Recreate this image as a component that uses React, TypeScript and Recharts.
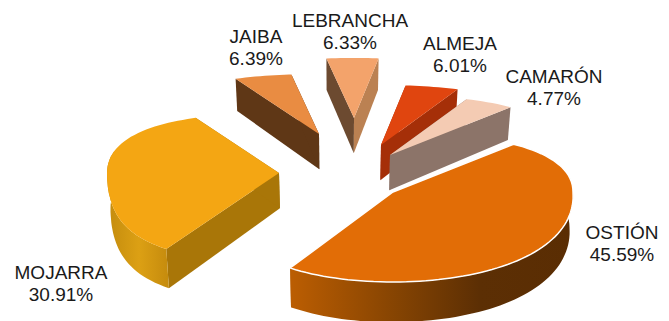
import { Pie, PieChart } from 'recharts'

const names = ['MOJARRA', 'JAIBA', 'LEBRANCHA', 'ALMEJA', 'CAMARÓN', 'OSTIÓN']
const shares = [30.91, 6.39, 6.33, 6.01, 4.77, 45.59]

const data = names.map((name, i) => ({ name, value: shares[i] }))

// exploded offset of each slice's apex from the pie centre
const explode: Record<string, [number, number]> = {
  MOJARRA: [-61, 10],
  JAIBA: [-21, -29],
  LEBRANCHA: [14, -45],
  ALMEJA: [41, -18],
  'CAMARÓN': [50, -8],
  'OSTIÓN': [53, 29],
}

const colors: Record<string, { top: string; start: string; end: string; arc: string[] }> = {
  MOJARRA: { top: '#f4a613', start: '#a97608', end: '#a97608', arc: ['#c48c0e', '#dca014', '#c48a0d'] },
  JAIBA: { top: '#e98c42', start: '#5f3716', end: '#5f3716', arc: ['#5f3716', '#5f3716'] },
  LEBRANCHA: { top: '#f3a36b', start: '#6c4a30', end: '#bb8152', arc: ['#6c4a30', '#bb8152'] },
  ALMEJA: { top: '#e0450f', start: '#a52f08', end: '#a52f08', arc: ['#a52f08', '#a52f08'] },
  'CAMARÓN': { top: '#f4cbb3', start: '#8c7469', end: '#8c7469', arc: ['#8c7469', '#8c7469'] },
  'OSTIÓN': { top: '#e26d06', start: '#5a2d03', end: '#b85c02', arc: ['#5a2d03', '#5c2f04', '#8a4602', '#ba5d02'] },
}

const labelPos: Record<string, [number, number]> = {
  MOJARRA: [61, 279],
  JAIBA: [256, 43],
  LEBRANCHA: [350, 27],
  ALMEJA: [460, 50],
  'CAMARÓN': [554, 83],
  'OSTIÓN': [622, 239],
}

const DEPTH = 38
const VANISH_X = 340
const RAD = Math.PI / 180

// plane point -> screen, the far side shrinks a bit (hand fitted, not a true camera)
function project(X: number, Y: number, nearLeft: number) {
  const width = X > 0 ? 180 : 172
  const far = X > 0 ? 0.3 : 0.22
  const xScale = Y < 0 ? 1 - far * Y * Y : 1 + (X > 0 ? 0.04 * Y : nearLeft * Y * Y)
  return {
    x: width * X * xScale,
    y: 100 * Y + (Y < 0 ? 40 : -10) * Y * Y,
    s: 1 / (1 - 0.12 * Y),
  }
}

function pathOf(pts: { x: number; y: number }[]) {
  return 'M' + pts.map((p) => `${p.x.toFixed(1)},${p.y.toFixed(1)}`).join('L') + 'Z'
}

function Slice3D(props: any) {
  const { cx, cy, startAngle, endAngle, name, payload } = props
  const key = name ?? payload?.name
  const c = colors[key]
  const [dx, dy] = explode[key]
  const nearLeft = key === 'MOJARRA' ? 0.25 : 0.1

  const top = (X: number, Y: number) => {
    const p = project(X, Y, nearLeft)
    return { x: cx + dx + p.x, y: cy + dy + p.y, s: p.s }
  }
  const low = (p: { x: number; y: number; s: number }) => ({
    x: VANISH_X + (p.x - VANISH_X) * 0.985,
    y: p.y + DEPTH * p.s * 0.93,
  })

  // recharts angles are counter-clockwise with y up, the plane here has y down
  const a0 = -startAngle
  const a1 = -endAngle
  const arc: ReturnType<typeof top>[] = []
  const angles: number[] = []
  for (let a = a0; a < a1; a += 2) angles.push(a)
  angles.push(a1)
  angles.forEach((a) => arc.push(top(Math.cos(a * RAD), Math.sin(a * RAD))))

  const apex = top(0, 0)
  const first = arc[0]
  const last = arc[arc.length - 1]
  const front = arc.filter((_, i) => Math.sin(angles[i] * RAD) > -0.25)
  const gradId = `arc-${names.indexOf(key)}`

  return (
    <g>
      <defs>
        <linearGradient id={gradId} gradientUnits="userSpaceOnUse"
          x1={key === 'OSTIÓN' ? 573 : 108} x2={key === 'OSTIÓN' ? 293 : 170} y1={0} y2={0}>
          {c.arc.map((col, i) => (
            <stop key={i} offset={i / (c.arc.length - 1)} stopColor={col} />
          ))}
        </linearGradient>
      </defs>
      <path d={pathOf([apex, first, low(first), low(apex)])} fill={c.start} />
      <path d={pathOf([apex, last, low(last), low(apex)])} fill={c.end} />
      {front.length > 1 && (
        <path d={pathOf([...front, ...front.map(low).reverse()])} fill={`url(#${gradId})`} />
      )}
      <path
        d={pathOf([apex, ...arc])}
        fill={c.top}
        stroke={key === 'OSTIÓN' ? '#ffffff' : 'none'}
        strokeWidth={key === 'OSTIÓN' ? 1.5 : 0}
      />
    </g>
  )
}

function SliceLabel(props: any) {
  const key = props.name ?? props.payload?.name
  const [x, y] = labelPos[key]
  return (
    <text x={x} y={y} textAnchor="middle" fontFamily="Liberation Sans, Arial, sans-serif" fontSize={19} fill="#1a1a1a">
      <tspan x={x}>{key}</tspan>
      <tspan x={x} dy={22}>{props.value.toFixed(2)}%</tspan>
    </text>
  )
}

export default function App() {
  return (
    <div style={{ position: 'absolute', left: 0, top: 0, width: 669, height: 321, background: '#fff' }}>
      <PieChart width={669} height={321} margin={{ top: 0, right: 0, bottom: 0, left: 0 }}>
        <Pie
          data={data}
          dataKey="value"
          nameKey="name"
          cx={340}
          cy={163}
          outerRadius={150}
          startAngle={-124}
          endAngle={-484}
          stroke="none"
          shape={Slice3D}
          label={SliceLabel}
          labelLine={false}
          isAnimationActive={false}
        />
      </PieChart>
    </div>
  )
}
